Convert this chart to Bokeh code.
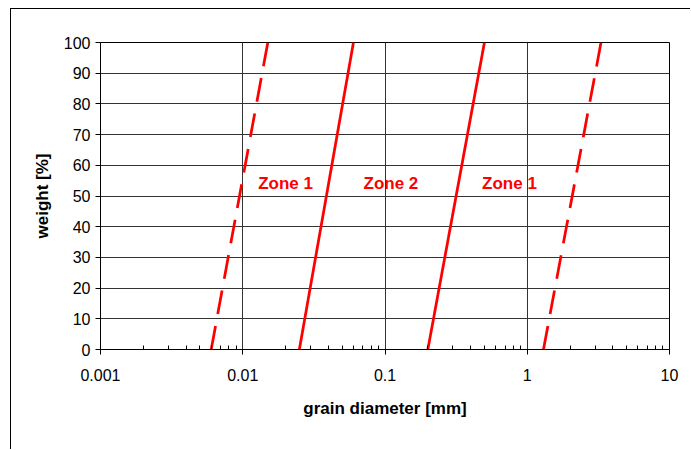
from bokeh.plotting import figure
from bokeh.models import FixedTicker, CustomJSTickFormatter
from bokeh.core.properties import value
from bokeh.embed import file_html
from bokeh.resources import INLINE

# ---- data ----
d_at_0 = [0.006, 0.025, 0.2, 1.3]        # grain diameter [mm] at 0 %
d_at_100 = [0.015, 0.06, 0.5, 3.3]       # grain diameter [mm] at 100 %
weight_ends = [0, 100]
line_dashed = [True, False, False, True]
zone_labels = ["Zone 1", "Zone 2", "Zone 1"]
zone_label_x = [0.02, 0.11, 0.75]
zone_label_y = [54, 54, 54]
x_ticks = [0.001, 0.01, 0.1, 1, 10]
y_ticks = list(range(0, 101, 10))

FONT = "Liberation Sans"
RED = "#ff0000"

p = figure(width=680, height=441, x_axis_type="log",
           x_range=(0.001, 10), y_range=(0, 100),
           output_backend="svg", toolbar_location=None,
           min_border_left=89, min_border_right=22,
           min_border_top=33, min_border_bottom=101)
p.styles = {"margin-left": "10px", "margin-top": "8px",
            "border-left": "1px solid #000", "border-top": "1px solid #000"}

p.outline_line_color = "#000000"
p.outline_line_width = 1
p.background_fill_color = "white"
p.border_fill_color = "white"

minor = []
for e in range(-3, 1):
    for k in range(2, 10):
        minor.append(k * 10.0 ** e)
p.xaxis.ticker = FixedTicker(ticks=x_ticks, minor_ticks=minor)
p.xaxis.formatter = CustomJSTickFormatter(code="return parseFloat(tick.toPrecision(6)).toString();")
p.yaxis.ticker = FixedTicker(ticks=y_ticks)

for ax in (p.xaxis, p.yaxis):
    ax.axis_line_color = "#000000"
    ax.major_tick_line_color = "#000000"
    ax.minor_tick_line_color = "#000000"
    ax.major_label_text_font = FONT
    ax.major_label_text_font_size = "16px"
    ax.major_label_text_color = "#000000"
    ax.axis_label_text_font = FONT
    ax.axis_label_text_font_size = "17px"
    ax.axis_label_text_font_style = "bold"
    ax.axis_label_text_color = "#000000"

p.xaxis.major_tick_out = 5
p.xaxis.major_tick_in = 0
p.xaxis.minor_tick_in = 4
p.xaxis.minor_tick_out = 0
p.xaxis.major_label_standoff = 14
p.xaxis.axis_label = "grain diameter [mm]"
p.xaxis.axis_label_standoff = 15

p.yaxis.major_tick_out = 5
p.yaxis.major_tick_in = 0
p.yaxis.minor_tick_line_color = None
p.yaxis.major_label_standoff = 5
p.yaxis.axis_label = "weight [%]"
p.yaxis.axis_label_standoff = 9

p.xgrid.grid_line_color = "#333333"
p.ygrid.grid_line_color = "#333333"
p.xgrid.grid_line_width = 1
p.ygrid.grid_line_width = 1

for x0, x1, dashed in zip(d_at_0, d_at_100, line_dashed):
    p.line(x=[x0, x1], y=weight_ends, line_color=RED, line_width=2.75,
           line_dash="24 12" if dashed else "solid")

p.text(x=zone_label_x, y=zone_label_y, text=zone_labels,
       text_color=RED, text_font=value(FONT), text_font_size="17px",
       text_font_style="bold", text_align="center", text_baseline="middle")

open("out.html", "w").write(file_html(p, INLINE))
